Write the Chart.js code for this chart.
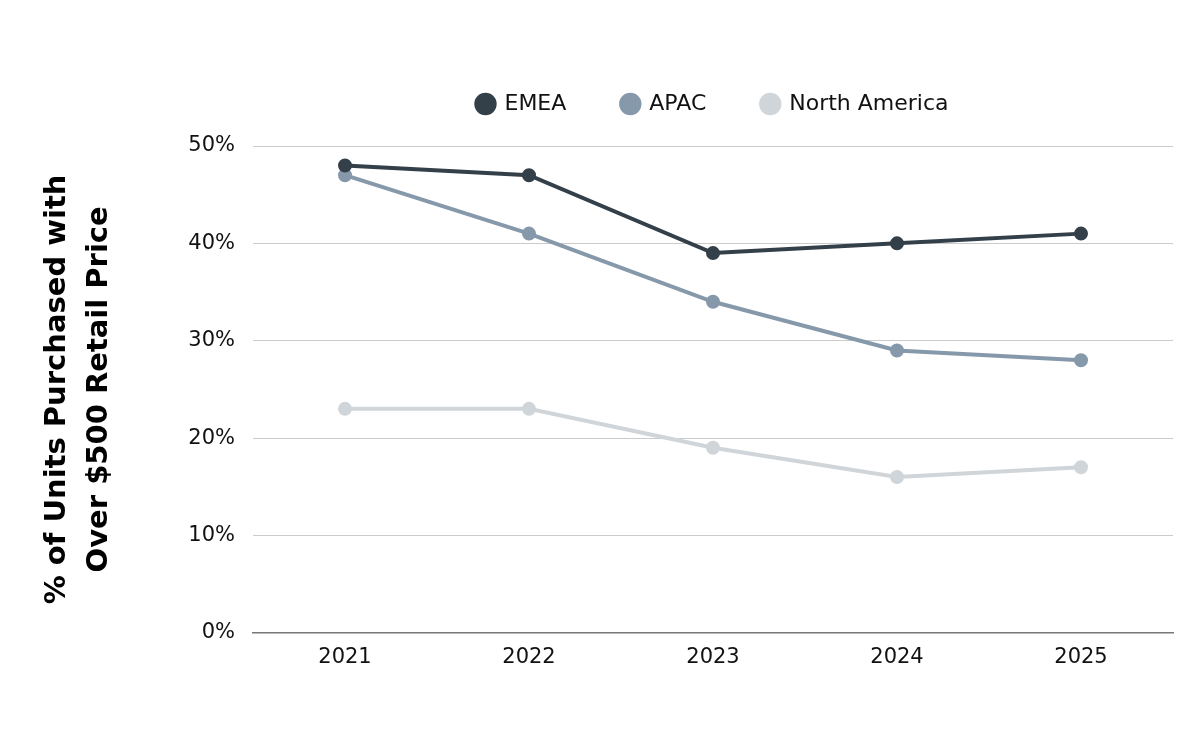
<!DOCTYPE html>
<html>
<head>
<meta charset="utf-8">
<script src="https://cdn.jsdelivr.net/npm/chart.js@4"></script>
<style>
  html, body { margin: 0; padding: 0; background: #fff; }
  #wrap { width: 1200px; height: 750px; }
</style>
</head>
<body>
<div id="wrap"><canvas id="chart" width="1200" height="750"></canvas></div>
<script>
/* ---- Data ---- */
const years = ['2021', '2022', '2023', '2024', '2025'];
const emea = [48, 47, 39, 40, 41];
const apac = [47, 41, 34, 29, 28];
const northAmerica = [23, 23, 19, 16, 17];
const yTicks = [0, 10, 20, 30, 40, 50];

const FONT = "'DejaVu Sans', sans-serif";
const LEFT_PAD = 36;

function series(label, data, color) {
  return {
    label,
    data,
    borderColor: color,
    backgroundColor: color,
    pointBackgroundColor: color,
    pointBorderColor: color,
    borderWidth: 4,
    pointRadius: 5,
    tension: 0,
  };
}

// extra space between legend and plot area
const legendGap = {
  id: 'legendGap',
  beforeInit(chart) {
    const fit = chart.legend.fit;
    chart.legend.fit = function () {
      fit.call(this);
      this.height += 21;
    };
  },
};

new Chart(document.getElementById('chart'), {
  type: 'line',
  data: {
    labels: years,
    datasets: [
      series('EMEA', emea, '#333f49'),
      series('APAC', apac, '#8699ab'),
      series('North America', northAmerica, '#d0d5da'),
    ],
  },
  plugins: [legendGap],
  options: {
    responsive: false,
    animation: false,
    layout: { padding: { top: 37, right: 27, bottom: 68, left: LEFT_PAD } },
    plugins: {
      legend: {
        position: 'top',
        fullSize: false,
        labels: {
          usePointStyle: true,
          pointStyle: 'circle',
          boxWidth: 16,
          boxHeight: 13,
          padding: 56,
          color: '#111',
          font: { family: FONT, size: 22 },
        },
      },
      tooltip: { enabled: false },
    },
    scales: {
      x: {
        offset: true,
        grid: { display: false, drawTicks: false },
        border: { display: true, color: '#777', width: 1.5 },
        ticks: { color: '#111', padding: 12, font: { family: FONT, size: 21 } },
      },
      y: {
        min: 0,
        max: 50,
        afterBuildTicks: (scale) => { scale.ticks = yTicks.map((v) => ({ value: v })); },
        afterFit: (scale) => { scale.width = 253 - LEFT_PAD; },
        grid: { color: '#cbcbcb', lineWidth: 1, drawTicks: false },
        border: { display: false },
        ticks: {
          color: '#111',
          padding: 18,
          font: { family: FONT, size: 21 },
          callback: (v) => v + '%',
        },
        title: {
          display: true,
          text: ['% of Units Purchased with', 'Over $500 Retail Price'],
          color: '#000',
          padding: 0,
          font: { family: FONT, size: 29, weight: 'bold', lineHeight: 1.45 },
        },
      },
    },
  },
});
</script>
</body>
</html>
